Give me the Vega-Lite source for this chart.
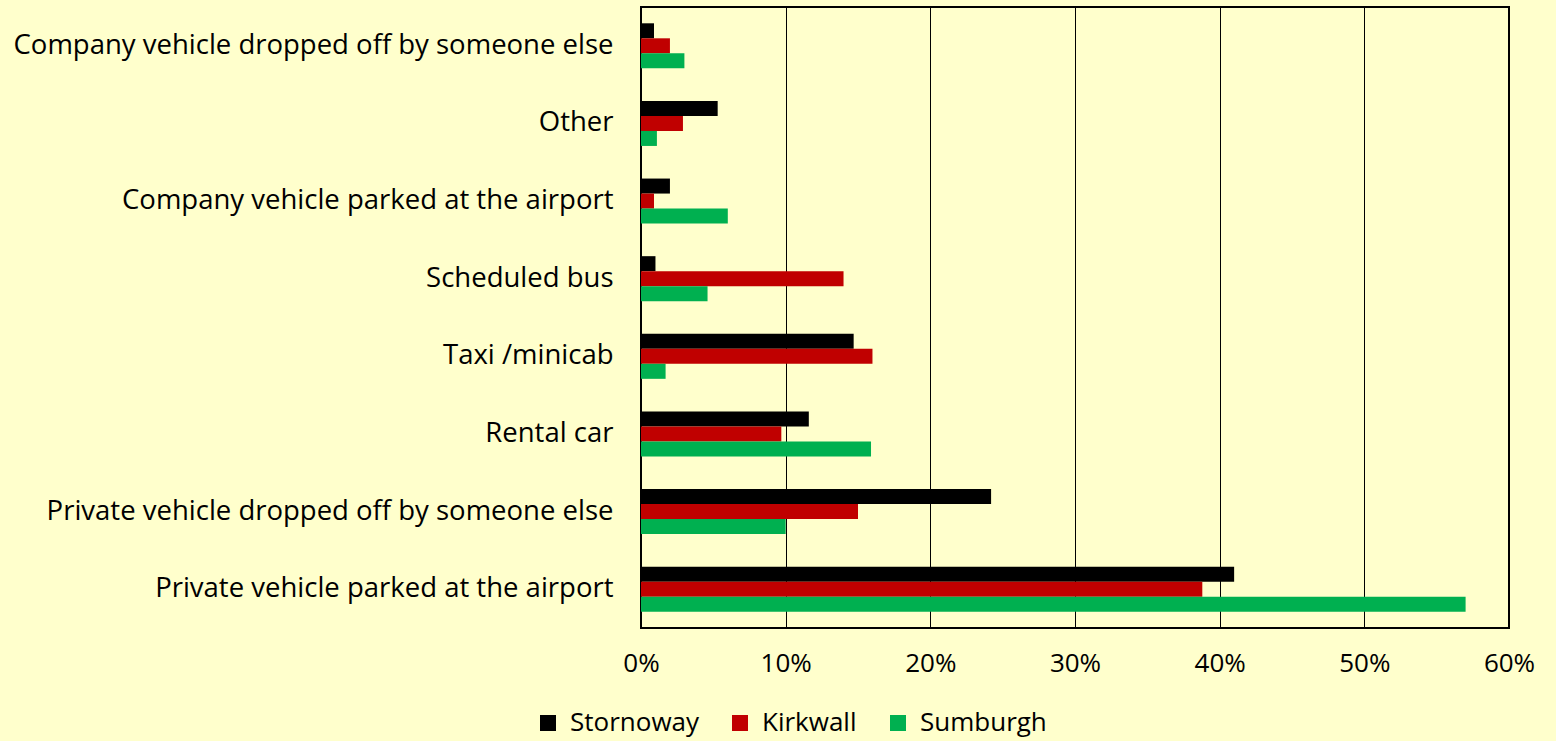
{
  "$schema": "https://vega.github.io/schema/vega-lite/v6.json",
  "width": 868,
  "height": 621,
  "autosize": {"type": "none"},
  "padding": {"left": 641, "top": 7, "right": 47, "bottom": 113},
  "background": "#FFFFCC",
  "config": {
    "view": {"stroke": "#000000", "strokeWidth": 2, "fill": "#FFFFCC"},
    "font": "Open Sans"
  },
  "data": {
    "values": [
      {"mode": "Company vehicle dropped off by someone else", "airport": "Stornoway", "value": 0.009},
      {"mode": "Company vehicle dropped off by someone else", "airport": "Kirkwall", "value": 0.020},
      {"mode": "Company vehicle dropped off by someone else", "airport": "Sumburgh", "value": 0.030},
      {"mode": "Other", "airport": "Stornoway", "value": 0.053},
      {"mode": "Other", "airport": "Kirkwall", "value": 0.029},
      {"mode": "Other", "airport": "Sumburgh", "value": 0.011},
      {"mode": "Company vehicle parked at the airport", "airport": "Stornoway", "value": 0.020},
      {"mode": "Company vehicle parked at the airport", "airport": "Kirkwall", "value": 0.009},
      {"mode": "Company vehicle parked at the airport", "airport": "Sumburgh", "value": 0.060},
      {"mode": "Scheduled bus", "airport": "Stornoway", "value": 0.010},
      {"mode": "Scheduled bus", "airport": "Kirkwall", "value": 0.140},
      {"mode": "Scheduled bus", "airport": "Sumburgh", "value": 0.046},
      {"mode": "Taxi /minicab", "airport": "Stornoway", "value": 0.147},
      {"mode": "Taxi /minicab", "airport": "Kirkwall", "value": 0.160},
      {"mode": "Taxi /minicab", "airport": "Sumburgh", "value": 0.017},
      {"mode": "Rental car", "airport": "Stornoway", "value": 0.116},
      {"mode": "Rental car", "airport": "Kirkwall", "value": 0.097},
      {"mode": "Rental car", "airport": "Sumburgh", "value": 0.159},
      {"mode": "Private vehicle dropped off by someone else", "airport": "Stornoway", "value": 0.242},
      {"mode": "Private vehicle dropped off by someone else", "airport": "Kirkwall", "value": 0.150},
      {"mode": "Private vehicle dropped off by someone else", "airport": "Sumburgh", "value": 0.100},
      {"mode": "Private vehicle parked at the airport", "airport": "Stornoway", "value": 0.410},
      {"mode": "Private vehicle parked at the airport", "airport": "Kirkwall", "value": 0.388},
      {"mode": "Private vehicle parked at the airport", "airport": "Sumburgh", "value": 0.570}
    ]
  },
  "mark": {"type": "bar"},
  "encoding": {
    "y": {
      "field": "mode",
      "type": "nominal",
      "sort": [
        "Company vehicle dropped off by someone else",
        "Other",
        "Company vehicle parked at the airport",
        "Scheduled bus",
        "Taxi /minicab",
        "Rental car",
        "Private vehicle dropped off by someone else",
        "Private vehicle parked at the airport"
      ],
      "scale": {"paddingInner": 0.42, "paddingOuter": 0.21},
      "axis": {
        "title": null,
        "labelFontSize": 27.5,
        "labelColor": "#000000",
        "labelPadding": 28,
        "labelLimit": 700,
        "ticks": false,
        "domain": false
      }
    },
    "yOffset": {"field": "airport", "sort": ["Stornoway", "Kirkwall", "Sumburgh"]},
    "x": {
      "field": "value",
      "type": "quantitative",
      "scale": {"domain": [0, 0.6], "nice": false},
      "axis": {
        "title": null,
        "format": ".0%",
        "values": [0, 0.1, 0.2, 0.3, 0.4, 0.5, 0.6],
        "grid": true,
        "gridColor": "#000000",
        "gridOpacity": 1,
        "gridWidth": 1,
        "domain": false,
        "ticks": false,
        "labelFlush": false,
        "labelFontSize": 26,
        "labelColor": "#000000",
        "labelPadding": 22
      }
    },
    "color": {
      "field": "airport",
      "type": "nominal",
      "scale": {"domain": ["Stornoway", "Kirkwall", "Sumburgh"], "range": ["#000000", "#C00000", "#00B050"]},
      "legend": {
        "title": null,
        "orient": "none",
        "direction": "horizontal",
        "legendX": -106,
        "legendY": 703,
        "symbolType": "square",
        "symbolSize": 256,
        "symbolStrokeWidth": 0,
        "symbolOpacity": 1,
        "labelFontSize": 26,
        "labelColor": "#000000",
        "labelOffset": 9,
        "columnPadding": 28
      }
    }
  }
}
